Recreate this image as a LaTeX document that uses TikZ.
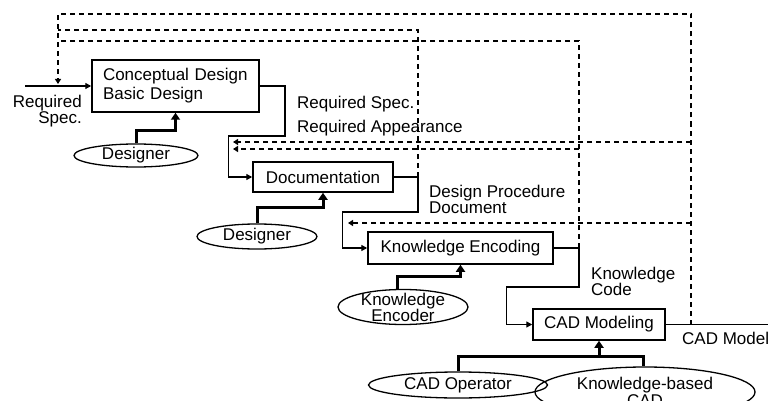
\documentclass[tikz,border=0pt]{standalone}
\usepackage{fontspec}
\setmainfont{Liberation Sans}
\usetikzlibrary{arrows.meta,shapes.geometric}
\begin{document}
\begin{tikzpicture}[x=1pt,y=-1pt,
  txt/.style={font=\fontsize{17}{19}\selectfont, inner sep=0pt},
  box/.style={txt, draw, line width=1.5pt},
  ell/.style={txt, draw, ellipse, line width=1.3pt},
  flow/.style={line width=1.3pt},
  arr/.style={-{Triangle[length=6pt,width=6pt]}},
  thk/.style={line width=3pt},
  tarr/.style={-{Triangle[length=7pt,width=9pt]}},
  fb/.style={line width=1.2pt, dash pattern=on 5pt off 4pt},
  farr/.style={-{Triangle[length=5pt,width=6pt]}},
  lbl/.style={txt}
]
\clip (0,0) rectangle (768,401);
\fill[white] (0,0) rectangle (768,401);

% boxes
\node[box, minimum width=167pt, minimum height=52pt, text width=145pt, align=left] (cd) at (175.5,86) {Conceptual Design\\Basic Design};
\node[box, minimum width=140pt, minimum height=30pt] (doc) at (323,177) {Documentation};
\node[box, minimum width=185pt, minimum height=32pt] (ke) at (460.5,248) {Knowledge Encoding};
\node[box, minimum width=132pt, minimum height=31pt] (cad) at (599,324.5) {CAD Modeling};

% ellipses
\node[ell, minimum width=124pt, minimum height=23pt] (des1) at (136,155.5) {Designer};
\node[ell, minimum width=120pt, minimum height=25pt] (des2) at (257,236.5) {Designer};
\node[ell, minimum width=130pt, minimum height=35pt, inner ysep=-6pt, align=center, font=\fontsize{17}{16}\selectfont] (kenc) at (403,307) {Knowledge\\Encoder};
\node[ell, minimum width=179pt, minimum height=26pt] (cadop) at (458,385) {CAD Operator};
\node[ell, minimum width=220pt, minimum height=50pt, align=center, font=\fontsize{17}{15}\selectfont] (kb) at (645,392) {Knowledge-based\\CAD};

% labels
\node[lbl, anchor=base east] (lreq1) at (82,107.5) {Required};
\node[lbl, anchor=base east] (lreq2) at (82,124) {Spec.};
\node[lbl, anchor=base west] (lrs1) at (297,108.5) {Required Spec.};
\node[lbl, anchor=base west] (lrs2) at (297,132.5) {Required Appearance};
\node[lbl, anchor=base west] (ldp1) at (429,197) {Design Procedure};
\node[lbl, anchor=base west] (ldp2) at (429,213) {Document};
\node[lbl, anchor=base west] (lkc1) at (591,279) {Knowledge};
\node[lbl, anchor=base west] (lkc2) at (591,295.5) {Code};
\node[lbl, anchor=base west] (lcm) at (682,344) {CAD Model};

% coordinates
\coordinate (in) at (25,86);
\coordinate (cadout) at (768,324.5);
\coordinate (cj) at (691,324.5);
\coordinate (kj) at (579,248);
\coordinate (dj) at (418,177);
\coordinate (fbin) at (58,84);
\coordinate (k142) at (691,142);
\coordinate (k149) at (579,149);
\coordinate (k223) at (691,223);
\coordinate (t142) at (233,142);
\coordinate (t149) at (233,149);
\coordinate (t223) at (348,223);
\coordinate (tl) at (58,14);
\coordinate (l30) at (58,30);
\coordinate (l41) at (58,41);

% main flow
\draw[flow, arr] (in) -- (cd.west);
\draw[flow, arr] (cd.east) -| (285,136) -| ([xshift=-24pt]doc.west) -- (doc.west);
\draw[flow, arr] (doc.east) -| (418,212) -| ([xshift=-25pt]ke.west) -- (ke.west);
\draw[flow, arr] (ke.east) -| (579,287) -| ([xshift=-26pt]cad.west) -- (cad.west);
\draw[flow] (cad.east) -- (cadout);

% resources
\draw[thk, tarr] (des1.north) -- ++(0,-12.5) -| (cd.south);
\draw[thk, tarr] (des2.north) -- ++(0,-16) -| (doc.south);
\draw[thk, tarr] ([xshift=-6pt]kenc.north) -- ++(0,-12) -| (ke.south);
\coordinate (j) at (599,356);
\draw[thk] (cadop.north) |- (j) -| ([xshift=-2pt]kb.north);
\draw[thk, tarr] (j) -- (cad.south);

% feedback
\draw[fb, farr] (cj) |- (tl) -- (fbin);
\draw[fb] (kj) |- (l41);
\draw[fb] (dj) |- (l30);
\draw[fb, farr] (k142) -- (t142);
\draw[fb, farr] (k149) -- (t149);
\draw[fb, farr] (k223) -- (t223);
\end{tikzpicture}
\end{document}
